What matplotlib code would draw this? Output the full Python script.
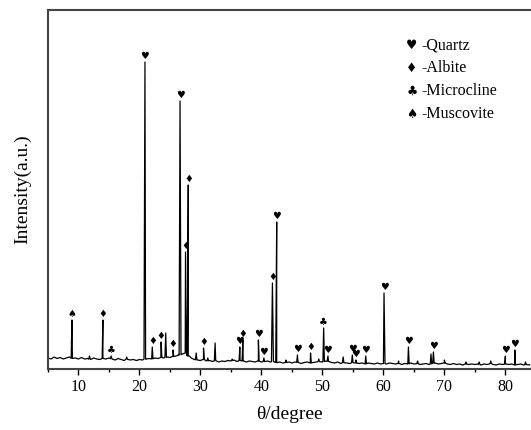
import numpy as np
import matplotlib
matplotlib.use("Agg")
import matplotlib.pyplot as plt

# baseline intensity read at 0.5 degree steps (5..84)
base_x = np.arange(5, 84.01, 0.5)
base_y = [11, 10, 12, 10.5, 11.5, 10, 11, 12, 10.5, 11,
          10, 11.5, 10, 10.5, 9.5, 11, 10, 9.5, 10.5, 10,
          11, 10, 9, 10.5, 9.5, 8.5, 10, 9, 9.5, 8.5,
          9.5, 9, 10, 10.5, 10, 11, 10.5, 11.5, 11, 12,
          11.5, 12.5, 13, 14, 15, 16, 13, 11, 9.5, 9,
          8.5, 9.5, 8, 8.5, 7.5, 8.5, 7, 8, 7.5, 8.5,
          8, 9, 7.5, 8.5, 8, 7, 8, 7.5, 7, 8,
          7, 7.5, 8, 7, 7.5, 6.5, 7, 6, 6.5, 7,
          6, 7, 6.5, 5.5, 6.5, 7, 6, 6.5, 7, 7.5,
          7, 8, 7.5, 6.5, 6, 7, 5.5, 6.5, 6, 5.5,
          6.5, 6, 5.5, 6, 5, 6, 5.5, 5, 6, 5,
          5.5, 5, 6, 5.5, 5, 5.5, 4.5, 5.5, 5, 6,
          5, 5.5, 4.5, 5, 5.5, 4.5, 5.5, 6, 5, 5.5,
          6, 5, 4.5, 5.5, 4.5, 5, 4, 5, 4.5, 5,
          4.5, 5, 4, 5, 4.5, 5.5, 4.5, 4, 5, 4.5,
          5, 4.5, 5, 4, 4.5, 5, 4, 4.5, 4]

# peaks: position (2theta), height, phase label
peak_pos = [8.92, 14.0, 15.35, 20.9, 22.1, 23.55, 24.3, 25.5, 26.65, 27.55,
            28.0, 30.5, 32.4, 36.45, 36.95, 39.5, 40.4, 41.8, 42.5, 45.9,
            48.05, 50.2, 50.9, 53.4, 54.9, 55.5, 57.1, 60.1, 64.1, 67.8,
            68.2, 80.0, 81.55]
peak_h = [49, 49, 13, 307, 22, 27, 36, 19, 268, 117,
          184, 21, 26, 22, 29, 29, 11, 86, 147, 14,
          16, 41, 13, 12, 14, 9, 13, 76, 22, 15,
          17, 13, 19]
peak_phase = ["Mu", "A", "Mi", "Q", "A", "A", None, "A", "Q", "A",
              "A", "A", None, "Q", "A", "Q", "Q", "A", "Q", "Q",
              "A", "Mi", "Q", None, "Q", "Q", "Q", "Q", "Q", None,
              "Q", "Q", "Q"]

# small unlabelled bumps in the baseline
bump_pos = [11.8, 17.9, 29.3, 31.2, 35.2, 44.0, 49.4, 62.5, 65.6, 70.0,
            73.5, 75.7, 77.6, 83.3]
bump_h = [13, 12, 16, 11, 10, 9, 10, 8, 8, 9, 7, 7, 8, 7]

symbols = {"Q": "\u2665", "A": "\u2666", "Mi": "\u2663", "Mu": "\u2660"}
legend_keys = ["Q", "A", "Mi", "Mu"]
legend_names = ["-Quartz", "-Albite", "-Microcline", "-Muscovite"]

# build the trace
xs = list(base_x)
ys = list(base_y)
for p, h in list(zip(peak_pos, peak_h)) + list(zip(bump_pos, bump_h)):
    w = 0.16 if h > 60 else 0.12
    b = np.interp(p, base_x, base_y)
    xs += [p - w, p, p + w]
    ys += [b, h, b]
order = np.argsort(xs)
xs = np.array(xs)[order]
ys = np.array(ys)[order]

fig = plt.figure(figsize=(5.31, 4.30), dpi=100)
ax = fig.add_axes([48 / 531, 61 / 430, 1 - 48 / 531, 359 / 430])
ax.plot(xs, ys, color="black", lw=0.9)

# phase symbols above the peaks
for p, h, ph in zip(peak_pos, peak_h, peak_phase):
    if ph is None:
        continue
    ax.text(p, h + 1, symbols[ph], ha="center", va="bottom",
            fontsize=7, family="DejaVu Sans")

for i, (k, name) in enumerate(zip(legend_keys, legend_names)):
    yy = 0.9025 - i * 0.0645
    ax.text(0.765, yy, symbols[k], transform=ax.transAxes, ha="right",
            va="center", fontsize=9, family="DejaVu Sans")
    ax.text(0.772, yy, name, transform=ax.transAxes, ha="left",
            va="center", fontsize=11.5, family="Liberation Serif")

ax.set_xlim(5, 84.2)
ax.set_ylim(0, 359)
ax.set_xticks(range(10, 81, 10))
ax.set_xticks(range(5, 85, 5), minor=True)
ax.set_yticks([])
ax.tick_params(axis="x", direction="out", length=4, width=1, labelsize=11.5,
               pad=3)
ax.tick_params(axis="x", which="minor", direction="out", length=2.5, width=1)
for lab in ax.get_xticklabels():
    lab.set_family("Liberation Serif")
for s in ["left", "top", "bottom"]:
    ax.spines[s].set_color("#444444")
    ax.spines[s].set_linewidth(1.5)
ax.spines["right"].set_visible(False)

ax.set_xlabel("\u03b8/degree", fontsize=14, family="Liberation Serif",
              labelpad=8)
ax.set_ylabel("Intensity(a.u.)", fontsize=14, family="Liberation Serif",
              labelpad=12)

fig.savefig("out.png", dpi=100)
